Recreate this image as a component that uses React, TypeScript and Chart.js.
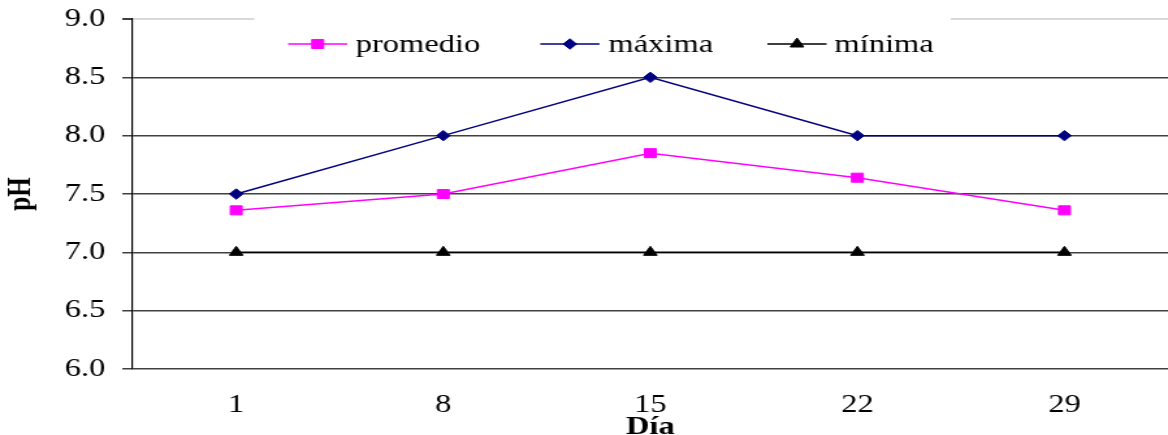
import React, { useEffect, useRef } from "react";
import { Chart, registerables } from "chart.js";

Chart.register(...registerables);

const categories = ["1", "8", "15", "22", "29"];
const promedio = [7.36, 7.5, 7.85, 7.64, 7.36];
const maxima = [7.5, 8.0, 8.5, 8.0, 8.0];
const minima = [7.0, 7.0, 7.0, 7.0, 7.0];
const seriesLabels = ["promedio", "máxima", "mínima"];
const yTitle = "pH";
const xTitle = "Día";

const FONT = "'Liberation Serif', 'Times New Roman', serif";
const STRETCH = 1.3;
const W = 1168;
const H = 435;
const IW = Math.round(W / STRETCH);

const legendPlugin = {
  id: "excelLegend",
  afterDraw(chart: any) {
    const ctx = chart.ctx;
    ctx.save();
    ctx.fillStyle = "#ffffff";
    ctx.fillRect(195.5, 8, 535.5, 60);
    const y = 44;
    const items = [
      { x: 221.5, tx: 273.5, color: "#FF00FF", style: "rect", r: 6.4 },
      { x: 415.4, tx: 467.7, color: "#000080", style: "rectRot", r: 5.2 },
      { x: 590, tx: 641.5, color: "#000000", style: "triangle", r: 6 },
    ];
    items.forEach((it, i) => {
      ctx.strokeStyle = it.color;
      ctx.lineWidth = 1.5;
      ctx.beginPath();
      ctx.moveTo(it.x, y);
      ctx.lineTo(it.x + 45.5, y);
      ctx.stroke();
      ctx.fillStyle = it.color;
      ctx.lineWidth = 1;
      const cx = it.x + 22.75;
      ctx.beginPath();
      if (it.style === "rect") {
        const s = it.r * Math.SQRT1_2;
        ctx.rect(cx - s, y - s, 2 * s, 2 * s);
      } else if (it.style === "rectRot") {
        ctx.moveTo(cx - it.r, y);
        ctx.lineTo(cx, y - it.r);
        ctx.lineTo(cx + it.r, y);
        ctx.lineTo(cx, y + it.r);
        ctx.closePath();
      } else {
        const r = it.r;
        ctx.moveTo(cx, y - r);
        ctx.lineTo(cx + r * 0.866, y + r * 0.5);
        ctx.lineTo(cx - r * 0.866, y + r * 0.5);
        ctx.closePath();
      }
      ctx.fill();
      ctx.stroke();
      ctx.fillStyle = "#000000";
      ctx.font = "25px " + FONT;
      ctx.textBaseline = "middle";
      ctx.textAlign = "left";
      ctx.fillText(seriesLabels[i], it.tx, y + 1);
    });
    ctx.restore();
  },
};

export default function App() {
  const ref = useRef<HTMLCanvasElement>(null);
  useEffect(() => {
    document.body.style.margin = "0";
    const chart = new Chart(ref.current!, {
      type: "line",
      data: {
        labels: categories,
        datasets: [
          {
            label: seriesLabels[0],
            data: promedio,
            borderColor: "#FF00FF",
            backgroundColor: "#FF00FF",
            borderWidth: 1.5,
            pointStyle: "rect",
            pointRadius: 6.4,
            pointBorderWidth: 1,
          },
          {
            label: seriesLabels[1],
            data: maxima,
            borderColor: "#000080",
            backgroundColor: "#000080",
            borderWidth: 1.5,
            pointStyle: "rectRot",
            pointRadius: 5.2,
            pointBorderWidth: 1,
          },
          {
            label: seriesLabels[2],
            data: minima,
            borderColor: "#000000",
            backgroundColor: "#000000",
            borderWidth: 1.5,
            pointStyle: "triangle",
            pointRadius: 6,
            pointBorderWidth: 1,
          },
        ],
      },
      options: {
        animation: false,
        responsive: false,
        maintainAspectRatio: false,
        devicePixelRatio: 1,
        layout: { autoPadding: false, padding: { top: 19, right: 0, left: 0, bottom: 0 } },
        plugins: {
          legend: { display: false },
          tooltip: { enabled: false },
        },
        scales: {
          x: {
            type: "category",
            offset: true,
            grid: { display: false, drawTicks: false },
            border: { display: false },
            ticks: {
              color: "#000",
              font: { family: FONT, size: 25 },
              padding: 21,
              maxRotation: 0,
            },
            title: {
              display: true,
              text: xTitle,
              color: "#000",
              font: { family: FONT, size: 25, weight: "bold", lineHeight: 0.56 },
              padding: { top: 0, bottom: 0 },
            },
            afterFit(scale: any) {
              scale.height = 66;
              scale.paddingLeft = 0;
              scale.paddingRight = 0;
            },
          },
          y: {
            min: 6,
            max: 9,
            ticks: {
              stepSize: 0.5,
              color: "#000",
              font: { family: FONT, size: 25 },
              padding: 13,
              callback: (v: any) => Number(v).toFixed(1),
            },
            grid: {
              color: (c: any) => (c.tick && c.tick.value === 9 ? "#d9d9d9" : "#404040"),
              lineWidth: (c: any) => (c.tick && c.tick.value === 9 ? 2 : 1.5),
              tickColor: "#404040",
              tickLength: 8,
              drawTicks: true,
            },
            border: { display: true, color: "#000000", width: 1.2 },
            title: {
              display: true,
              text: yTitle,
              color: "#000",
              font: { family: FONT, size: 25, weight: "bold" },
              padding: { top: 2, bottom: 0 },
            },
            afterFit(scale: any) {
              scale.width = 102;
              scale.paddingTop = 0;
              scale.paddingBottom = 0;
            },
          },
        },
      },
      plugins: [legendPlugin],
    });
    return () => chart.destroy();
  }, []);
  return (
    <div style={{ width: W, height: H, overflow: "hidden" }}>
      <canvas
        ref={ref}
        width={IW}
        height={H}
        style={{ width: W + "px", height: H + "px", display: "block" }}
      />
    </div>
  );
}
